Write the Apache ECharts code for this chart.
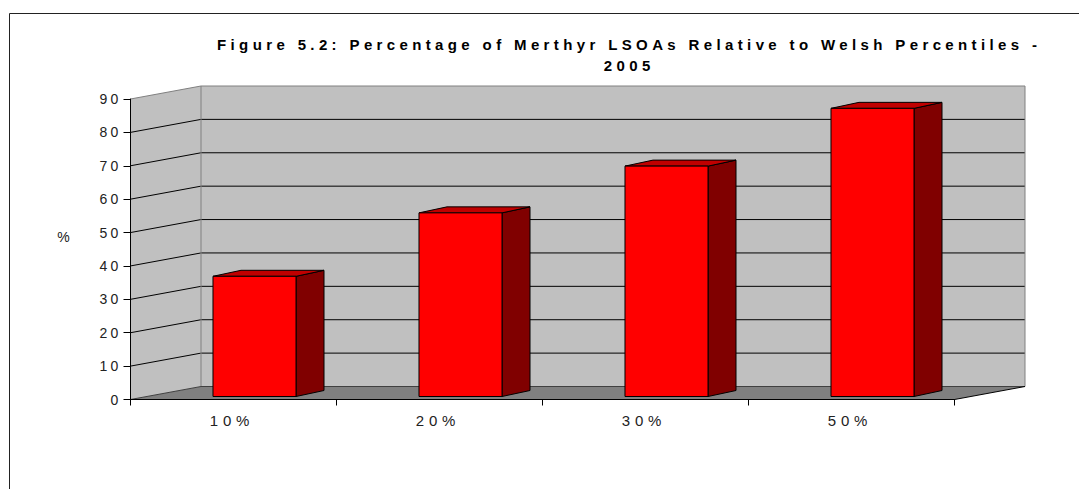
<!DOCTYPE html>
<html>
<head>
<meta charset="utf-8">
<style>
html,body{margin:0;padding:0;background:#fff}
#c{width:1079px;height:489px}
#c text[style*="15px"]{letter-spacing:4.8px}
#c text[style*="14px"]{letter-spacing:3.2px}
#c text[style*="bold"]{letter-spacing:4.37px}
</style>
<script src="https://cdn.jsdelivr.net/npm/echarts@6/dist/echarts.min.js"></script>
</head>
<body>
<div id="c"></div>
<script>
const categories = ['10%', '20%', '30%', '50%'];
const values = [36, 55, 69, 86.3];
const yTicks = [10, 20, 30, 40, 50, 60, 70, 80, 90];
const titleLines = ['Figure 5.2: Percentage of Merthyr LSOAs Relative to Welsh Percentiles -', '2005'];
const yName = '%';

const WALL = [70.5, -13], BAR_FRONT = [21, -3], BAR_BACK = [49, -9], BAR_RATIO = 0.403;

function poly(points, fill, stroke, lineWidth) {
  return { type: 'polygon', shape: { points }, style: { fill, stroke: stroke || 'none', lineWidth: lineWidth || 1 } };
}
function line(points, stroke) {
  return { type: 'polyline', shape: { points }, style: { fill: 'none', stroke, lineWidth: 1 } };
}

function renderWalls(params, api) {
  const o = api.coord([0, 0]);
  const band = api.size([1, 0])[0];
  const x0 = o[0] - band / 2, y0 = o[1];
  const x1 = x0 + band * categories.length;
  const yTop = api.coord([0, 90])[1];
  const [dx, dy] = WALL;
  const kids = [
    poly([[x0, y0], [x0 + dx, y0 + dy], [x0 + dx, yTop + dy], [x0, yTop]], '#C0C0C0'),
    poly([[x0 + dx, y0 + dy], [x1 + dx, y0 + dy], [x1 + dx, yTop + dy], [x0 + dx, yTop + dy]], '#C0C0C0'),
    poly([[x0, y0], [x1, y0], [x1 + dx, y0 + dy], [x0 + dx, y0 + dy]], '#808080')
  ];
  yTicks.slice(0, -1).forEach(t => {
    const y = api.coord([0, t])[1];
    kids.push(line([[x0, y], [x0 + dx, y + dy], [x1 + dx, y + dy]], '#000'));
  });
  kids.push(line([[x0, yTop], [x0 + dx, yTop + dy], [x1 + dx, yTop + dy], [x1 + dx, y0 + dy]], '#808080'));
  kids.push(line([[x0 + dx, yTop + dy], [x0 + dx, y0 + dy]], '#808080'));
  kids.push(line([[x0, y0], [x0 + dx, y0 + dy], [x1 + dx, y0 + dy]], '#404040'));
  kids.push(line([[x1, y0], [x1 + dx, y0 + dy]], '#000'));
  return { type: 'group', children: kids };
}

function renderBar(params, api) {
  const c = api.coord([api.value(0), api.value(1)]);
  const b = api.coord([api.value(0), 0]);
  const w = api.size([1, 0])[0] * BAR_RATIO;
  const xl = c[0] - w / 2 + BAR_FRONT[0], xr = xl + w;
  const yt = c[1] + BAR_FRONT[1], yb = b[1] + BAR_FRONT[1];
  const dx = BAR_BACK[0] - BAR_FRONT[0], dy = BAR_BACK[1] - BAR_FRONT[1];
  return {
    type: 'group',
    children: [
      poly([[xr, yt], [xr + dx, yt + dy], [xr + dx, yb + dy], [xr, yb]], '#800000', '#000'),
      poly([[xl, yt], [xl + dx, yt + dy], [xr + dx, yt + dy], [xr, yt]], '#C00000', '#000'),
      poly([[xl, yt], [xr, yt], [xr, yb], [xl, yb]], '#FF0000', '#000')
    ]
  };
}

const chart = echarts.init(document.getElementById('c'), null, { renderer: 'svg' });
chart.setOption({
  animation: false,
  backgroundColor: '#fff',
  textStyle: { fontFamily: 'Liberation Sans' },
  title: {
    text: titleLines.join('\n'),
    left: 624.2, top: 28.5, textAlign: 'center',
    textStyle: { fontFamily: 'Liberation Sans', fontSize: 15, fontWeight: 'bold', color: '#000', lineHeight: 21 }
  },
  grid: { left: 130.5, right: 124.5, top: 99, bottom: 89.5 },
  xAxis: {
    type: 'category', data: categories, z: 5,
    axisLine: { show: true, onZero: false, lineStyle: { color: '#000', width: 1 } },
    axisTick: { show: true, alignWithLabel: false, length: 6, lineStyle: { color: '#000' } },
    axisLabel: { margin: 13, fontSize: 15, color: '#222', fontFamily: 'Liberation Sans', padding: [0, 3, 0, 0] }
  },
  yAxis: {
    type: 'value', min: 0, max: 90, interval: 10, z: 5,
    name: yName, nameLocation: 'middle', nameRotate: 0, nameGap: 57.5,
    nameTextStyle: { fontSize: 14, color: '#222', fontFamily: 'Liberation Sans', verticalAlign: 'bottom', lineHeight: 24 },
    splitLine: { show: false },
    axisLine: { show: true, lineStyle: { color: '#000', width: 1 } },
    axisTick: { show: true, length: 7, lineStyle: { color: '#000' } },
    axisLabel: { margin: 9, fontSize: 14, color: '#222', fontFamily: 'Liberation Sans' }
  },
  series: [
    { type: 'custom', z: 1, silent: true, clip: false, renderItem: renderWalls, data: [[0, 0]] },
    { type: 'custom', z: 2, clip: false, renderItem: renderBar, data: values.map((v, i) => [i, v]) }
  ],
  graphic: [
    { type: 'polyline', silent: true, shape: { points: [[9.5, 489], [9.5, 13.5], [1079, 13.5]] }, style: { fill: 'none', stroke: '#222', lineWidth: 1 } }
  ]
});
</script>
</body>
</html>
